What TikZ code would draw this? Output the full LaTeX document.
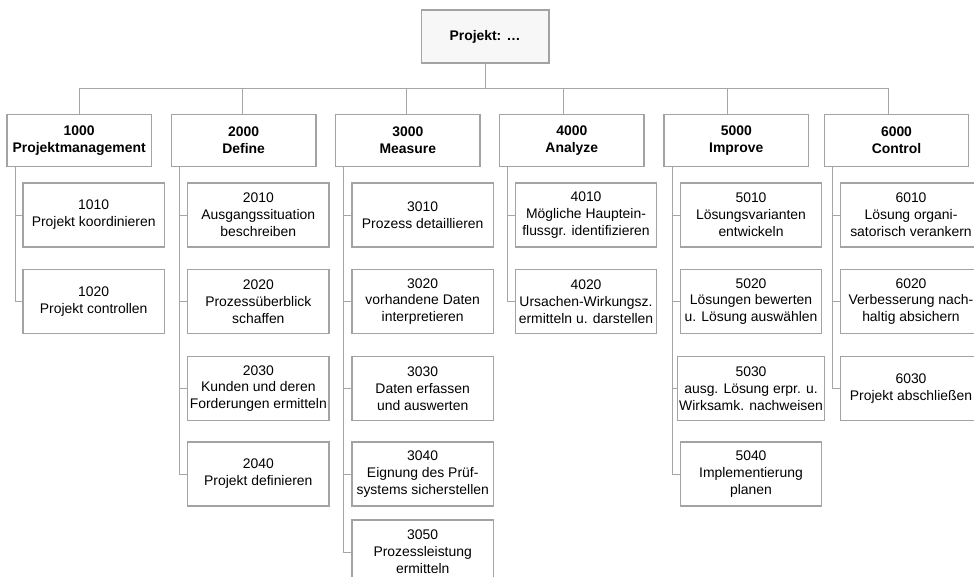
\documentclass[tikz,border=0pt]{standalone}
\usepackage{fontspec}
\setmainfont{Liberation Sans}
\usetikzlibrary{calc}
\definecolor{boxgray}{HTML}{A3A3A3}
\definecolor{linegray}{HTML}{A6A6A6}
\tikzset{
  project/.style={draw=boxgray, line width=1.4pt, fill=black!3, minimum width=3.175cm, minimum height=1.325cm, align=center, font=\bfseries\fontsize{9.9}{12}\selectfont},
  phase/.style={draw=boxgray, line width=1pt, fill=white, minimum width=3.6125cm, minimum height=1.31cm, align=center, inner sep=1pt, font=\bfseries\fontsize{9.9}{12}\selectfont},
  task/.style={draw=boxgray, line width=1pt, fill=white, minimum width=3.53cm, minimum height=1.6cm, align=center, inner sep=1pt, font=\fontsize{9.9}{12}\selectfont},
  link/.style={draw=linegray, line width=0.7pt}
}

\begin{document}
\begin{tikzpicture}[x=0.025cm, y=-0.025cm]
    \useasboundingbox (0,0) rectangle (974,577);
    \clip (0,0) rectangle (974,577);

    \node[project] at (485, 36.5) (top) {Projekt: …};

    \node[phase] at (79.2, 140.5) (p1) {1000\\Projektmanagement};
    \node[phase] at (243.7, 140.5) (p2) {2000\\Define};
    \node[phase] at (407.8, 140.5) (p3) {3000\\Measure};
    \node[phase] at (571.8, 140.5) (p4) {4000\\Analyze};
    \node[phase] at (736.3, 140.5) (p5) {5000\\Improve};
    \node[phase] at (896.5, 140.5) (p6) {6000\\Control};

    \coordinate (bus) at (485, 88);
    \draw[link] (top.south) -- (bus);
    \foreach \p/\dx in {p1/0,p2/-1,p3/-1.1,p4/-8.5,p5/-9,p6/-8.5}
      \draw[link] ($(\p.north)+(\dx,0)$) |- (bus);

    % Projektmanagement
    \node[task] at (93.7, 215) (k1010) {1010\\Projekt koordinieren};
    \node[task] at (93.7, 301.5) (k1020) {1020\\Projekt controllen};

    % Define
    \node[task] at (258.3, 215) (k2010) {2010\\Ausgangssituation\\beschreiben};
    \node[task] at (258.3, 301.5) (k2020) {2020\\Prozessüberblick\\schaffen};
    \node[task] at (258.3, 388.5) (k2030) {2030\\Kunden und deren\\Forderungen ermitteln};
    \node[task] at (258.3, 474) (k2040) {2040\\Projekt definieren};

    % Measure
    \node[task] at (422.7, 215) (k3010) {3010\\Prozess detaillieren};
    \node[task] at (422.7, 301.5) (k3020) {3020\\vorhandene Daten\\interpretieren};
    \node[task] at (422.7, 388.5) (k3030) {3030\\Daten erfassen\\und auswerten};
    \node[task] at (422.7, 474) (k3040) {3040\\Eignung des Prüf-\\systems sicherstellen};
    \node[task] at (422.7, 552) (k3050) {3050\\Prozessleistung\\ermitteln};

    % Analyze
    \node[task] at (586, 215) (k4010) {4010\\Mögliche Hauptein-\\flussgr. identifizieren};
    \node[task] at (586, 301.5) (k4020) {4020\\Ursachen-Wirkungsz.\\ermitteln u. darstellen};

    % Improve
    \node[task] at (751, 215) (k5010) {5010\\Lösungsvarianten\\entwickeln};
    \node[task] at (751, 301.5) (k5020) {5020\\Lösungen bewerten\\u. Lösung auswählen};
    \node[task] at (751, 388.5) (k5030) {5030\\ausg. Lösung erpr. u.\\Wirksamk. nachweisen};
    \node[task] at (751, 474) (k5040) {5040\\Implementierung\\planen};

    % Control
    \node[task] at (911, 215) (k6010) {6010\\Lösung organi-\\satorisch verankern};
    \node[task] at (911, 301.5) (k6020) {6020\\Verbesserung nach-\\haltig absichern};
    \node[task] at (911, 388.5) (k6030) {6030\\Projekt abschließen};

    \foreach \p/\k in {p1/k1010,p1/k1020,
                       p2/k2010,p2/k2020,p2/k2030,p2/k2040,
                       p3/k3010,p3/k3020,p3/k3030,p3/k3040,p3/k3050,
                       p4/k4010,p4/k4020,
                       p5/k5010,p5/k5020,p5/k5030,p5/k5040,
                       p6/k6010,p6/k6020,p6/k6030}
      \draw[link] ($(\p.south west)+(8.8,0)$) |- (\k.west);
\end{tikzpicture}
\end{document}
